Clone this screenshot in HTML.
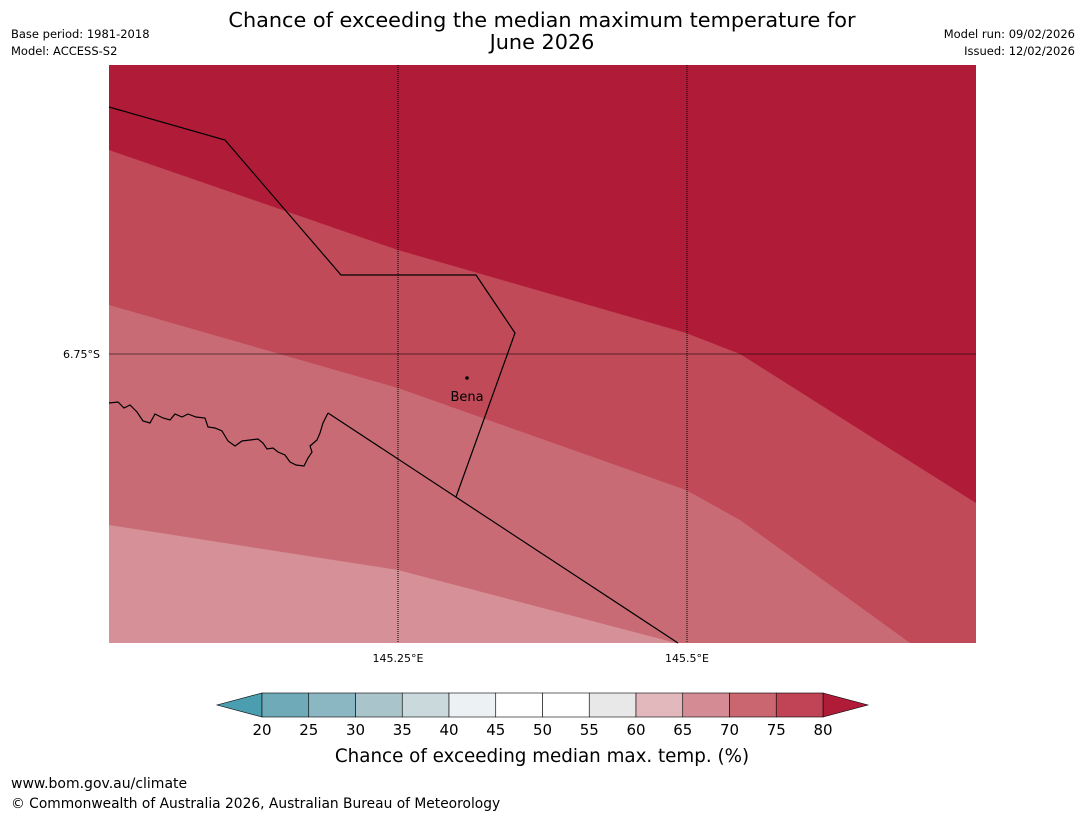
<!DOCTYPE html>
<html><head><meta charset="utf-8"><style>
body{margin:0;width:1085px;height:816px;background:#fff;font-family:"DejaVu Sans","Liberation Sans",sans-serif;overflow:hidden}
</style></head><body>
<svg width="1085" height="816" font-family="DejaVu Sans, Liberation Sans, sans-serif">
<text x="542" y="27" font-size="20.8" text-anchor="middle">Chance of exceeding the median maximum temperature for</text>
<text x="542" y="49" font-size="20.8" text-anchor="middle">June 2026</text>
<text x="11" y="38" font-size="11.5">Base period: 1981-2018</text>
<text x="11" y="55" font-size="11.5">Model: ACCESS-S2</text>
<text x="1075" y="38" font-size="11.5" text-anchor="end">Model run: 09/02/2026</text>
<text x="1075" y="55" font-size="11.5" text-anchor="end">Issued: 12/02/2026</text>
<g id="map">
<rect x="109" y="65" width="867" height="578" fill="#d69097"/>
<polygon points="109,65 976,65 976,643 676,643 398,570 109,525" fill="#c96b75"/>
<polygon points="109,65 976,65 976,643 910,643 740,520 686,490 398,388 109,305" fill="#c04a58"/>
<polygon points="109,65 976,65 976,503 740,354 686,333 398,250 109,150" fill="#b01c38"/>
<line x1="398" y1="65" x2="398" y2="643" stroke="#000" stroke-width="1" stroke-dasharray="1,1"/>
<line x1="687" y1="65" x2="687" y2="643" stroke="#000" stroke-width="1" stroke-dasharray="1,1"/>
<line x1="109" y1="354" x2="976" y2="354" stroke="#000" stroke-width="0.8" opacity="0.7"/>
<polyline points="109,107 225,140 341,275 476,275 515,333 456,497" fill="none" stroke="#000" stroke-width="1.2"/>
<line x1="328" y1="413" x2="678" y2="643" stroke="#000" stroke-width="1.2"/>
<polyline points="109,403 118,402 124,408 130,405 137,412 143,421 150,423 155,414 163,418 170,420 175,414 182,417 188,414 196,417 205,418 208,427 215,428 222,431 228,441 235,446 242,441 250,440 258,439 263,443 267,449 273,448 278,452 285,455 290,462 296,465 304,466 308,458 312,452 310,446 317,440 320,433 323,423 328,413" fill="none" stroke="#000" stroke-width="1.2"/>
<circle cx="467" cy="378" r="1.8" fill="#000"/>
<text x="467" y="401" font-size="13" text-anchor="middle">Bena</text>
</g>
<text x="100" y="358" font-size="11" text-anchor="end">6.75°S</text>
<text x="398" y="662" font-size="11" text-anchor="middle">145.25°E</text>
<text x="687" y="662" font-size="11" text-anchor="middle">145.5°E</text>
<g id="cbar"></g>
<text x="542" y="762" font-size="18.3" text-anchor="middle">Chance of exceeding median max. temp. (%)</text>
<text x="11" y="788" font-size="14">www.bom.gov.au/climate</text>
<text x="11" y="808" font-size="13.8">© Commonwealth of Australia 2026, Australian Bureau of Meteorology</text>
</svg>
<script>
const levels=[20,25,30,35,40,45,50,55,60,65,70,75,80];
const binColors=["#6faab9","#8bb7c2","#a9c5cb","#c9d9dc","#ecf1f3","#ffffff","#ffffff","#e8e8e8","#e2b8bc","#d58b94","#c96670","#c04455"];
const underColor="#4a9eaf", overColor="#b01c38";
const NS="http://www.w3.org/2000/svg";
const g=document.getElementById('cbar');
const x0=262,x1=823,y0=693,h=24;
const sx=v=>x0+(v-levels[0])/(levels[levels.length-1]-levels[0])*(x1-x0);
function mk(t,a){const e=document.createElementNS(NS,t);for(const k in a)e.setAttribute(k,a[k]);g.appendChild(e);return e;}
const lt=mk('polygon',{points:`${x0},${y0} ${x0},${y0+h} 217,${y0+h/2}`,fill:underColor,stroke:'#000','stroke-width':0.6});


const rt=mk('polygon',{points:`${x1},${y0} ${x1},${y0+h} 868,${y0+h/2}`,fill:overColor,stroke:'#000','stroke-width':0.6});


binColors.forEach((c,i)=>{
 const r=mk('rect',{x:sx(levels[i]),y:y0,width:sx(levels[i+1])-sx(levels[i]),height:h,fill:c,stroke:'#000','stroke-width':0.6});
 
 
});
levels.forEach(v=>{
 const t=mk('text',{x:sx(v),y:735,'font-size':15,'text-anchor':'middle'});
 t.textContent=v;
 
 
});
</script>
</body></html>
